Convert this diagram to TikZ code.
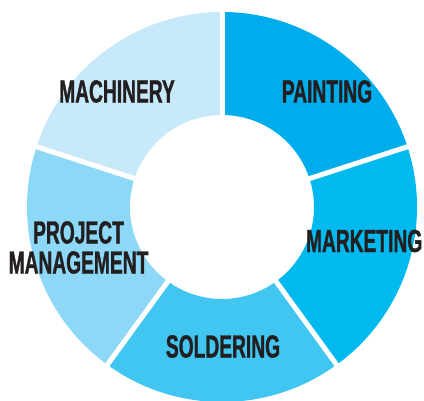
\documentclass[tikz,border=0pt]{standalone}
\usepackage{fontspec}
\newfontfamily\labelfont[FakeStretch=0.6,FakeBold=1]{Liberation Sans}

\definecolor{painting}{HTML}{00ADEC}
\definecolor{marketing}{HTML}{00B9EF}
\definecolor{soldering}{HTML}{41C5F1}
\definecolor{projmgmt}{HTML}{8DD7F7}
\definecolor{machinery}{HTML}{C7E9F9}
\definecolor{labelgray}{HTML}{231F20}

\tikzset{
  seglabel/.style={text=labelgray, inner sep=0pt, align=center,
    font=\labelfont\bfseries\fontsize{32}{30}\selectfont},
  gap/.style={white, line width=5pt}
}

\newcommand{\ringpart}[3]{% colour, start angle, end angle
  \fill[#1] (#2:195pt) arc[start angle=#2, end angle=#3, radius=195pt]
    -- (#3:92pt) arc[start angle=#3, end angle=#2, radius=92pt] -- cycle;}

\begin{document}
\begin{tikzpicture}
    \useasboundingbox (0,0) rectangle (424pt,400pt); % page size
    \begin{scope}[shift={(222pt,193pt)}]
        \ringpart{painting}{90}{18} % ring parts
        \ringpart{marketing}{18}{-54}
        \ringpart{soldering}{-54}{-126}
        \ringpart{projmgmt}{-126}{-198}
        \ringpart{machinery}{162}{90}
        \foreach \a in {90,18,-54,-126,162}
            \draw[gap] (\a:88pt) -- (\a:200pt); % white gaps
    \end{scope}
    \node[seglabel] (painting) at (327pt,308.5pt) {PAINTING};
    \node[seglabel, anchor=east] (marketing) at (422.5pt,159pt) {MARKETING};
    \node[seglabel] (soldering) at (223pt,53.5pt) {SOLDERING};
    \node[seglabel] (projmgmt) at (78.5pt,152.5pt) {PROJECT\\MANAGEMENT};
    \node[seglabel] (machinery) at (117pt,308.5pt) {MACHINERY};
\end{tikzpicture}
\end{document}
